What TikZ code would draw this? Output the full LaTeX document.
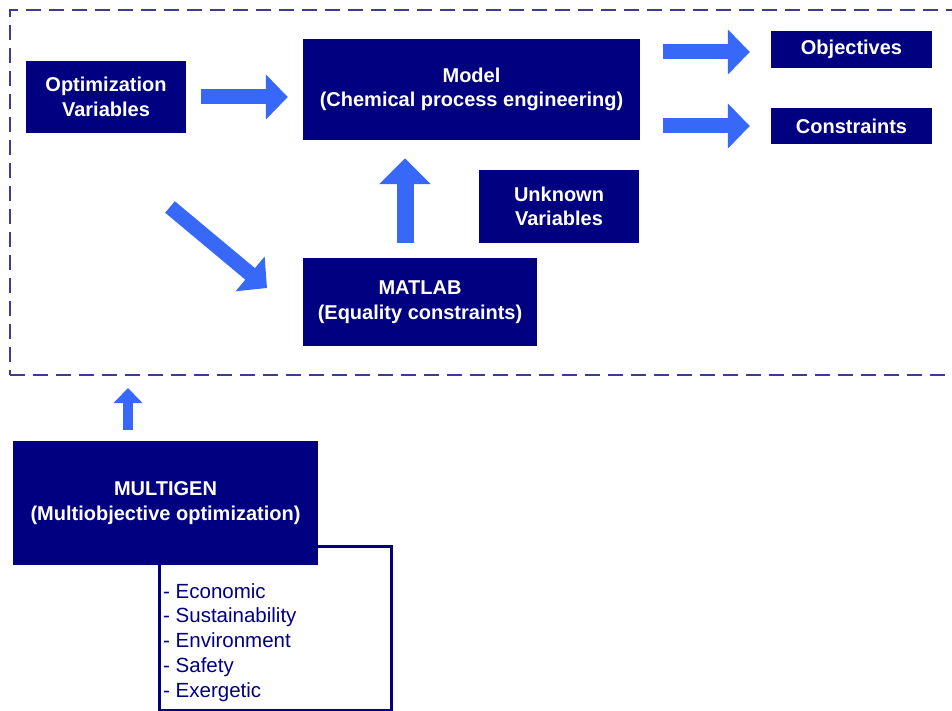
\documentclass[tikz,border=0pt]{standalone}
\usepackage{fontspec}
\setmainfont{Liberation Sans}
\usetikzlibrary{arrows.meta}
\definecolor{boxnavy}{RGB}{0,0,128}
\definecolor{arrowblue}{RGB}{56,104,248}
\definecolor{framecol}{RGB}{60,60,150}
\begin{document}
\begin{tikzpicture}[x=1pt,y=-1pt,
  box/.style={fill=boxnavy, text=white, font=\fontsize{20}{24.5}\selectfont\bfseries, align=center, inner sep=0pt},
  bigarrow/.style={draw=arrowblue, line width=15pt, -{Triangle[width=44pt,length=22pt]}},
  uparrow/.style={draw=arrowblue, line width=17pt, -{Triangle[width=50pt,length=26pt]}},
  smallarrow/.style={draw=arrowblue, line width=10pt, -{Triangle[width=28pt,length=15pt]}}
]
\clip (0,0) rectangle (952,711);
\fill[white] (0,0) rectangle (952,711);

% dashed frame
\node[draw=framecol, line width=2pt, dash pattern=on 15pt off 8pt, minimum width=960pt, minimum height=365pt, inner sep=0pt] (frame) at (490,192.5) {};

% boxes in the frame
\node[box, minimum width=160pt, minimum height=72pt] (ov) at (106,97) {Optimization\\Variables};
\node[box, minimum width=337pt, minimum height=101pt] (model) at (471.5,89.5) {Model\\(Chemical process engineering)};
\node[box, minimum width=161pt, minimum height=37pt] (obj) at (851.5,49.5) {Objectives};
\node[box, minimum width=161pt, minimum height=36pt] (con) at (851.5,126) {Constraints};
\node[box, minimum width=160pt, minimum height=73pt] (unk) at (559,206.5) {Unknown\\Variables};
\node[box, minimum width=234pt, minimum height=88pt] (mat) at (420,302) {MATLAB\\(Equality constraints)};

% list box and MULTIGEN
\node[draw=boxnavy, line width=2.5pt, fill=white, minimum width=232pt, minimum height=164pt, anchor=north west, inner sep=0pt] (lst) at (158,545) {};
\node[anchor=north west, inner sep=0pt, align=left, text=boxnavy, font=\fontsize{20.5}{24.75}\selectfont] (lsttext) at (163,583) {- Economic\\- Sustainability\\- Environment\\- Safety\\- Exergetic};
\node[box, minimum width=305pt, minimum height=124pt] (mg) at (165.5,503) {MULTIGEN\\(Multiobjective optimization)};

% arrows
\draw[bigarrow, shorten <=15pt, shorten >=15pt] (ov.east) -- (ov.east -| model.west);
\coordinate (oa) at ([yshift=-2.5pt]obj.west);
\draw[bigarrow, shorten <=23pt, shorten >=21pt] (oa -| model.east) -- (oa);
\draw[bigarrow, shorten <=23pt, shorten >=21pt] (con.west -| model.east) -- (con.west);
\coordinate (ma) at ([xshift=-15pt]mat.north);
\draw[uparrow, shorten <=15pt, shorten >=18pt] (ma) -- (ma |- model.south);
\coordinate (d1) at (170,207);
\coordinate (d2) at (267,288);
\draw[bigarrow] (d1) -- (d2);
\coordinate (mu) at ([xshift=-37.5pt]mg.north);
\draw[smallarrow, shorten <=11pt, shorten >=12pt] (mu) -- (mu |- frame.south);
\end{tikzpicture}
\end{document}
